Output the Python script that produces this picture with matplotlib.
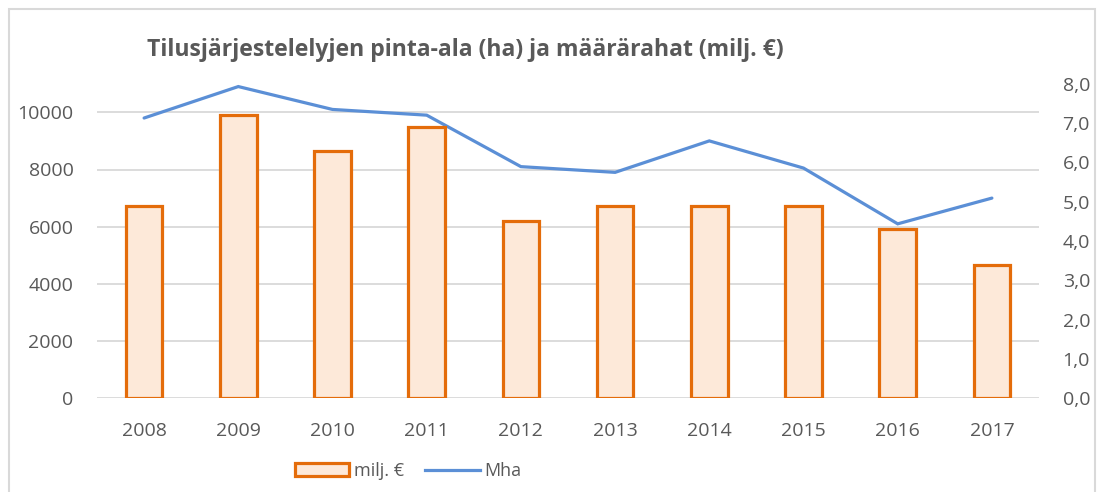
import matplotlib
matplotlib.use("Agg")
import matplotlib.pyplot as plt
from matplotlib.patches import Rectangle, Patch
from matplotlib.lines import Line2D

years = ['2008', '2009', '2010', '2011', '2012', '2013', '2014', '2015', '2016', '2017']
milj_eur = [4.9, 7.2, 6.3, 6.9, 4.5, 4.9, 4.9, 4.9, 4.3, 3.4]
mha = [9800, 10900, 10100, 9900, 8100, 7900, 9000, 8050, 6100, 7000]
left_ticks = [0, 2000, 4000, 6000, 8000, 10000]
right_ticks = [0, 1, 2, 3, 4, 5, 6, 7, 8]
right_tick_labels = ['0,0', '1,0', '2,0', '3,0', '4,0', '5,0', '6,0', '7,0', '8,0']
title = 'Tilusjärjestelelyjen pinta-ala (ha) ja määrärahat (milj. €)'

FONT = 'Open Sans'
TXT = '#595959'
ORANGE = '#E46C0A'
FILL = '#FDE9D9'
BLUE = '#5B8FD6'
GRID = '#D9D9D9'

plt.rcParams['font.family'] = [FONT, 'DejaVu Sans']

fig = plt.figure(figsize=(10.97, 4.92), dpi=100)
fig.patch.set_facecolor('white')

# chart border
fig.add_artist(Rectangle((9 / 1097, -0.05), (1095 - 9) / 1097, (492 - 9) / 492 + 0.05,
                         transform=fig.transFigure, fill=False, edgecolor='#D9D9D9', lw=1.5))

ax = fig.add_axes([97 / 1097, (492 - 398.3) / 492, (1039 - 97) / 1097, (398.3 - 83.7) / 492])
ax2 = ax.twinx()

x = list(range(len(years)))
ax.plot(x, mha, color=BLUE, lw=2.3, solid_capstyle='round', solid_joinstyle='miter', zorder=3)
ax2.bar(x, milj_eur, width=0.39, facecolor=FILL, edgecolor=ORANGE, linewidth=2.3, zorder=2)

ax.set_xlim(-0.5, len(years) - 0.5)
ax.set_ylim(0, 11000)
ax2.set_ylim(0, 8)

ax.set_yticks(left_ticks)
ax.set_yticklabels([str(v) for v in left_ticks])
ax2.set_yticks(right_ticks)
ax2.set_yticklabels(right_tick_labels)
ax.set_xticks(x)
ax.set_xticklabels(years)

ax.grid(axis='y', color=GRID, lw=1.3)
ax.grid(axis='x', visible=False)
ax.set_axisbelow(True)

for a in (ax, ax2):
    for s in a.spines.values():
        s.set_visible(False)
    a.tick_params(length=0, labelsize=14, labelcolor=TXT)
ax.tick_params(axis='y', pad=17)
ax2.tick_params(axis='y', pad=17)
ax.tick_params(axis='x', pad=17)

fig.text(147 / 1097, 1 - 50 / 492, title, fontsize=16.6, fontweight='bold', color=TXT,
         ha='left', va='center')

handles = [Patch(facecolor=FILL, edgecolor=ORANGE, lw=2.3),
           Line2D([0], [0], color=BLUE, lw=2.3)]
fig.legend(handles, ['milj. €', 'Mha'], loc='center', bbox_to_anchor=(408 / 1097, 1 - 471 / 492),
           ncol=2, frameon=False, fontsize=13, labelcolor=TXT, handlelength=3.0,
           handletextpad=0.25, columnspacing=1.2)

fig.savefig('out.png', dpi=100)
